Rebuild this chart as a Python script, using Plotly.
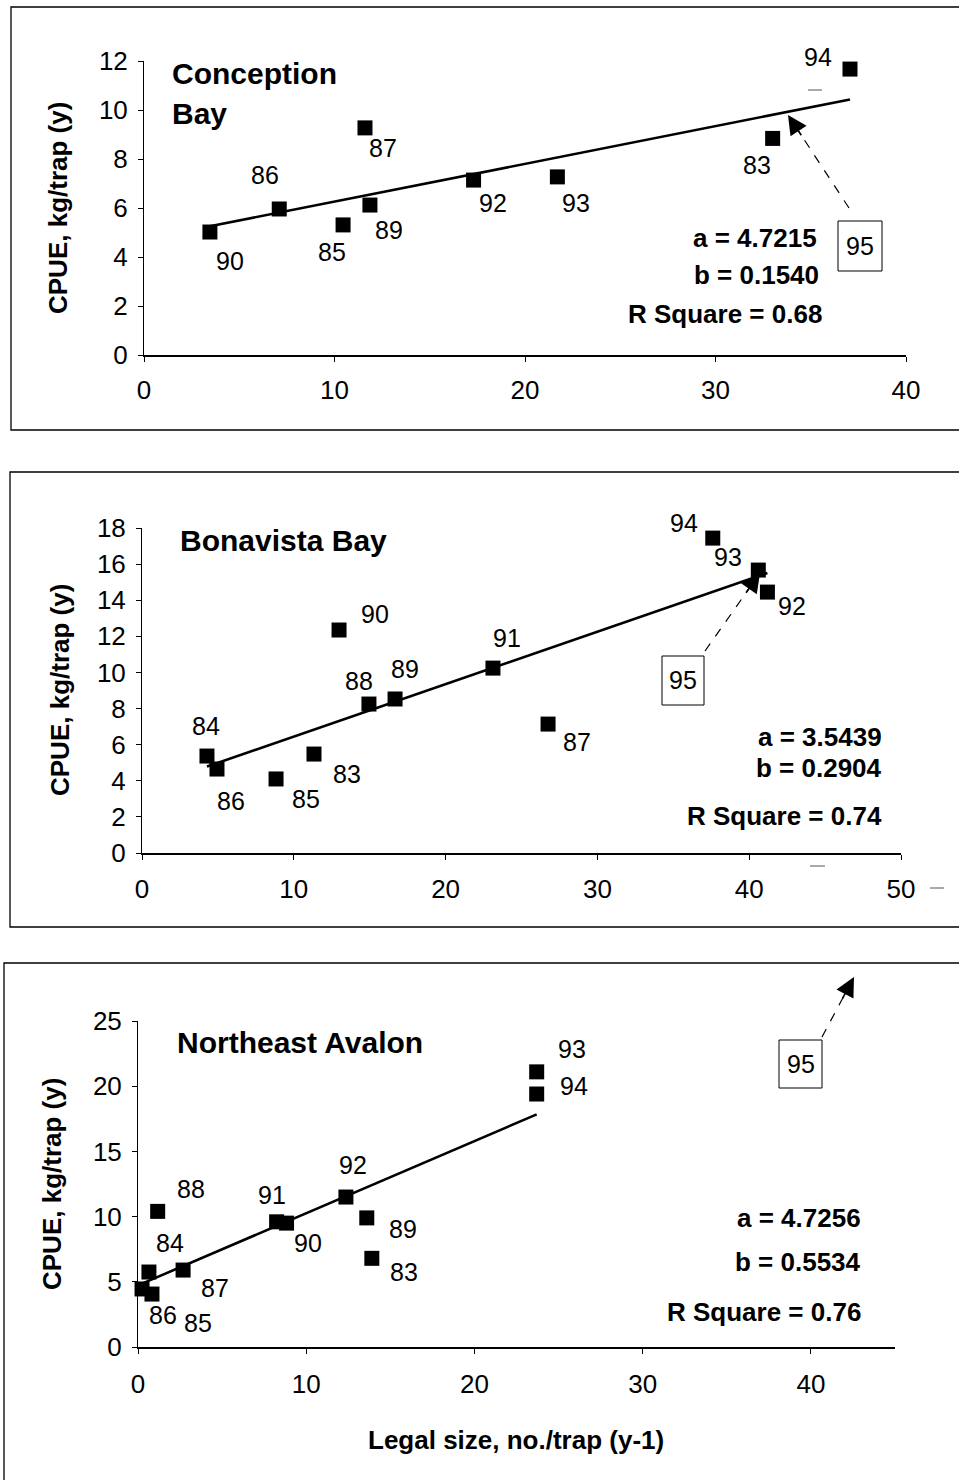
import plotly.graph_objects as go

W, H = 959, 1480

# ---------------- data ----------------
cb_years = ["83", "85", "86", "87", "89", "90", "92", "93", "94"]
cb_legal = [33.0, 10.45, 7.1, 11.6, 11.86, 3.46, 17.3, 21.7, 37.06]
cb_cpue = [8.84, 5.31, 5.96, 9.27, 6.12, 5.02, 7.14, 7.27, 11.67]
cb_a, cb_b, cb_r2 = 4.7215, 0.1540, 0.68

bb_years = ["83", "84", "85", "86", "87", "88", "89", "90", "91", "92", "93", "94"]
bb_legal = [11.33, 4.28, 8.83, 4.94, 26.75, 14.95, 16.67, 12.98, 23.12, 41.2, 40.6, 37.6]
bb_cpue = [5.48, 5.37, 4.1, 4.65, 7.14, 8.25, 8.53, 12.35, 10.24, 14.45, 15.67, 17.44]
bb_a, bb_b, bb_r2 = 3.5439, 0.2904, 0.74

na_years = ["83", "84", "85", "86", "87", "88", "89", "90", "91", "92", "93", "94"]
na_legal = [13.9, 0.65, 0.83, 0.24, 2.68, 1.17, 13.6, 8.83, 8.24, 12.36, 23.7, 23.7]
na_cpue = [6.8, 5.75, 4.06, 4.45, 5.9, 10.4, 9.9, 9.5, 9.6, 11.5, 21.1, 19.4]
na_a, na_b, na_r2 = 4.7256, 0.5534, 0.76

# label offsets (pixels, right / down) for the year labels
cb_off = {"83": (-16, 27), "85": (-11, 27), "86": (-14, -34), "87": (18, 20), "89": (19, 25),
          "90": (20, 29), "92": (19, 23), "93": (19, 26), "94": (-32, -12)}
bb_off = {"83": (33, 20), "84": (-1, -30), "85": (30, 20), "86": (14, 32), "87": (29, 18),
          "88": (-10, -23), "89": (10, -30), "90": (36, -16), "91": (14, -30), "92": (25, 14),
          "93": (-30, -13), "94": (-29, -15)}
na_off = {"83": (32, 14), "84": (21, -29), "85": (46, 29), "86": (21, 26), "87": (32, 18),
          "88": (33, -22), "89": (36, 11), "90": (21, 20), "91": (-5, -27), "92": (7, -32),
          "93": (35, -23), "94": (37, -8)}

FONT = "Liberation Sans, Arial, Helvetica, sans-serif"


def px(x):
    return x / W


def py(y):
    return 1 - y / H


fig = go.Figure()
annotations = []
shapes = []

panels = [
    dict(xs=cb_legal, ys=cb_cpue, yrs=cb_years, a=cb_a, b=cb_b, r2=cb_r2, off=cb_off, n=""),
    dict(xs=bb_legal, ys=bb_cpue, yrs=bb_years, a=bb_a, b=bb_b, r2=bb_r2, off=bb_off, n="2"),
    dict(xs=na_legal, ys=na_cpue, yrs=na_years, a=na_a, b=na_b, r2=na_r2, off=na_off, n="3"),
]

for p in panels:
    xr, yr = "x" + p["n"], "y" + p["n"]
    x0, x1 = min(p["xs"]), max(p["xs"])
    fig.add_trace(go.Scatter(x=[x0, x1], y=[p["a"] + p["b"] * x0, p["a"] + p["b"] * x1],
                             mode="lines", line=dict(color="black", width=2.6),
                             xaxis=xr, yaxis=yr, cliponaxis=False, hoverinfo="skip"))
    fig.add_trace(go.Scatter(x=p["xs"], y=p["ys"], mode="markers",
                             marker=dict(symbol="square", size=15, color="black"),
                             xaxis=xr, yaxis=yr, cliponaxis=False))
    for xv, yv, lab in zip(p["xs"], p["ys"], p["yrs"]):
        dx, dy = p["off"][lab]
        annotations.append(dict(x=xv, y=yv, xref=xr, yref=yr, text=lab, showarrow=False,
                                xanchor="center", yanchor="middle",
                                xshift=dx, yshift=-dy,
                                font=dict(family=FONT, size=25, color="black")))

# axes
axis_common = dict(showgrid=False, zeroline=False, showline=True, linecolor="black",
                   ticks="outside", ticklen=5, tickwidth=1, tickcolor="black",
                   automargin=False,
                   tickfont=dict(family=FONT, size=26, color="black"), fixedrange=True)

fig.update_layout(
    xaxis=dict(domain=[px(144), px(906)], range=[0, 40], dtick=10, anchor="y",
               linewidth=1.6, ticklabelstandoff=6, **axis_common),
    yaxis=dict(domain=[py(355), py(61)], range=[0, 12], dtick=2, anchor="x",
               linewidth=1, ticklabelstandoff=5, **axis_common),
    xaxis2=dict(domain=[px(142), px(901)], range=[0, 50], dtick=10, anchor="y2",
                linewidth=1.6, ticklabelstandoff=7, **axis_common),
    yaxis2=dict(domain=[py(853), py(528)], range=[0, 18], dtick=2, anchor="x2",
                linewidth=1, ticklabelstandoff=5, **axis_common),
    xaxis3=dict(domain=[px(138), px(895)], range=[0, 45], tickvals=[0, 10, 20, 30, 40],
                anchor="y3", linewidth=1.6, ticklabelstandoff=8, **axis_common),
    yaxis3=dict(domain=[py(1347), py(1021)], range=[0, 25], dtick=5, anchor="x3",
                linewidth=1, ticklabelstandoff=5, **axis_common),
)

# panel titles
tfont = dict(family=FONT, size=30, color="black", weight="bold")
for txt, x, y in [("Conception", 170, 73), ("Bay", 170, 114),
                  ("Bonavista Bay", 178, 540), ("Northeast Avalon", 175, 1042)]:
    annotations.append(dict(x=px(x), y=py(y), xref="paper", yref="paper", text=txt,
                            showarrow=False, xanchor="left", yanchor="middle", font=tfont))

# y axis titles
yfont = dict(family=FONT, size=26, color="black", weight="bold")
for x, y in [(58, 208), (60, 690), (52, 1184)]:
    annotations.append(dict(x=px(x), y=py(y), xref="paper", yref="paper",
                            text="CPUE, kg/trap (y)", textangle=-90, showarrow=False,
                            xanchor="center", yanchor="middle", font=yfont))

# x axis title
annotations.append(dict(x=px(516), y=py(1440), xref="paper", yref="paper",
                        text="Legal size, no./trap (y-1)", showarrow=False,
                        xanchor="center", yanchor="middle", font=yfont))

# regression statistics
sfont = dict(family=FONT, size=26, color="black", weight="bold")
stats_pos = [((819, 238), (821, 275), (824, 314)),
             ((884, 737), (884, 768), (884, 816)),
             ((863, 1218), (863, 1262), (863, 1312))]
for p, pos in zip(panels, stats_pos):
    texts = [f"a = {p['a']:.4f}", f"b = {p['b']:.4f}", f"R Square = {p['r2']:.2f}"]
    for t, (x, y) in zip(texts, pos):
        annotations.append(dict(x=px(x), y=py(y), xref="paper", yref="paper", text=t,
                                showarrow=False, xanchor="right", yanchor="middle", font=sfont))

# "95" boxes with dashed arrows
boxes = [((838, 221, 882, 271), (849, 208), (788, 115)),
         ((662, 656, 704, 705), (705, 651), (760, 573)),
         ((779, 1040, 822, 1088), (822, 1037), (854, 977))]
for (bx0, by0, bx1, by1), (tx, ty), (hx, hy) in boxes:
    shapes.append(dict(type="rect", xref="paper", yref="paper", x0=px(bx0), x1=px(bx1),
                       y0=py(by1), y1=py(by0), line=dict(color="black", width=1)))
    annotations.append(dict(x=px((bx0 + bx1) / 2), y=py((by0 + by1) / 2), xref="paper",
                            yref="paper", text="95", showarrow=False,
                            xanchor="center", yanchor="middle",
                            font=dict(family=FONT, size=25, color="black")))
    vx, vy = tx - hx, ty - hy
    L = (vx ** 2 + vy ** 2) ** 0.5
    ux, uy = vx / L, vy / L
    shapes.append(dict(type="line", xref="paper", yref="paper",
                       x0=px(tx), y0=py(ty), x1=px(hx + ux * 18), y1=py(hy + uy * 18),
                       line=dict(color="black", width=1.2, dash="dash")))
    annotations.append(dict(x=px(hx), y=py(hy), xref="paper", yref="paper", text="",
                            showarrow=True, ax=ux * 26, ay=uy * 26, arrowhead=2,
                            arrowsize=2.4, arrowwidth=1.6, arrowcolor="black"))

# panel frames
for x0, y0, x1, y1 in [(11, 7, 965, 430), (10, 472, 965, 927), (4, 963, 965, 1490)]:
    shapes.append(dict(type="rect", xref="paper", yref="paper", x0=px(x0), x1=px(x1),
                       y0=py(y1), y1=py(y0), line=dict(color="black", width=1.3)))

# small scan marks
for x0, y0, x1, y1 in [(808, 90, 822, 90), (810, 866, 825, 866), (930, 888, 944, 888)]:
    shapes.append(dict(type="line", xref="paper", yref="paper", x0=px(x0), x1=px(x1),
                       y0=py(y0), y1=py(y1), line=dict(color="#555", width=1)))

fig.update_layout(width=W, height=H, margin=dict(l=0, r=0, t=0, b=0, autoexpand=False),
                  paper_bgcolor="white", plot_bgcolor="white", showlegend=False,
                  annotations=annotations, shapes=shapes)

fig.write_html("out.html")
